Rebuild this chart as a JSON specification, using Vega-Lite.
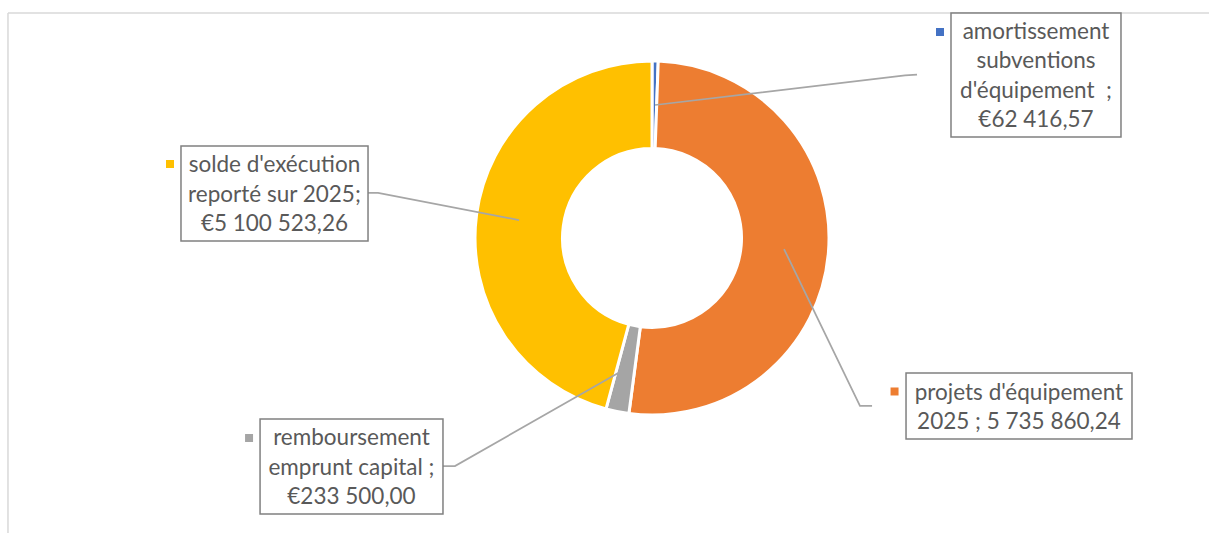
{
  "$schema": "https://vega.github.io/schema/vega-lite/v6.json",
  "width": 1209,
  "height": 533,
  "padding": 0,
  "autosize": {"type": "none"},
  "background": "white",
  "config": {"view": {"stroke": null}},
  "datasets": {
    "slices": [
      {"poste": "amortissement subventions d'équipement", "ordre": 1, "montant": 62416.57},
      {"poste": "projets d'équipement 2025", "ordre": 2, "montant": 5735860.24},
      {"poste": "remboursement emprunt capital", "ordre": 3, "montant": 233500.00},
      {"poste": "solde d'exécution reporté sur 2025", "ordre": 4, "montant": 5100523.26}
    ],
    "labels": [
      {"poste": "amortissement subventions d'équipement", "bx1": 78.66, "bx2": 92.72, "by1": 2.44, "by2": 25.70, "tx": 85.69, "ty": 6.00, "kx": 77.75, "ky": 6.00,
       "texte": ["amortissement", "subventions", "d'équipement\u00a0\u00a0;", "€62 416,57"]},
      {"poste": "solde d'exécution reporté sur 2025", "bx1": 14.97, "bx2": 30.44, "by1": 27.39, "by2": 45.22, "tx": 22.70, "ty": 30.96, "kx": 14.06, "ky": 30.77,
       "texte": ["solde d'exécution", "reporté sur 2025;", "€5 100 523,26"]},
      {"poste": "remboursement emprunt capital", "bx1": 21.51, "bx2": 36.64, "by1": 78.61, "by2": 96.44, "tx": 29.07, "ty": 82.18, "kx": 20.60, "ky": 82.18,
       "texte": ["remboursement", "emprunt capital ;", "€233 500,00"]},
      {"poste": "projets d'équipement 2025", "bx1": 74.94, "bx2": 93.63, "by1": 69.98, "by2": 82.36, "tx": 84.28, "ty": 73.73, "kx": 73.99, "ky": 73.45,
       "texte": ["projets d'équipement", "2025 ; 5 735 860,24"]}
    ],
    "leaders": [
      {"poste": "amortissement subventions d'équipement", "p": 1, "x": 54.18, "y": 19.70},
      {"poste": "amortissement subventions d'équipement", "p": 2, "x": 74.86, "y": 14.16},
      {"poste": "amortissement subventions d'équipement", "p": 3, "x": 75.85, "y": 13.98},
      {"poste": "solde d'exécution reporté sur 2025", "p": 1, "x": 30.44, "y": 36.21},
      {"poste": "solde d'exécution reporté sur 2025", "p": 2, "x": 31.27, "y": 36.21},
      {"poste": "solde d'exécution reporté sur 2025", "p": 3, "x": 42.93, "y": 41.28},
      {"poste": "remboursement emprunt capital", "p": 1, "x": 36.64, "y": 87.43},
      {"poste": "remboursement emprunt capital", "p": 2, "x": 37.63, "y": 87.43},
      {"poste": "remboursement emprunt capital", "p": 3, "x": 51.28, "y": 69.79},
      {"poste": "projets d'équipement 2025", "p": 1, "x": 72.13, "y": 76.17},
      {"poste": "projets d'équipement 2025", "p": 2, "x": 71.13, "y": 76.17},
      {"poste": "projets d'équipement 2025", "p": 3, "x": 64.85, "y": 46.72}
    ],
    "cadre": [
      {"x": 0.66, "y": 2.44, "x2": 100, "y2": 2.44},
      {"x": 0.66, "y": 2.44, "x2": 0.66, "y2": 100}
    ]
  },
  "layer": [
    {
      "data": {"name": "cadre"},
      "mark": {"type": "rule", "color": "#d9d9d9", "strokeWidth": 1.5},
      "encoding": {
        "x": {"field": "x", "type": "quantitative", "scale": {"domain": [0, 100], "nice": false, "zero": false}, "axis": null},
        "x2": {"field": "x2"},
        "y": {"field": "y", "type": "quantitative", "scale": {"domain": [0, 100], "nice": false, "zero": false, "reverse": true}, "axis": null},
        "y2": {"field": "y2"}
      }
    },
    {
      "data": {"name": "slices"},
      "mark": {"type": "arc", "outerRadius": 177, "innerRadius": 89.5, "stroke": "white", "strokeWidth": 3},
      "encoding": {
        "x": {"datum": 53.93, "type": "quantitative"},
        "y": {"datum": 44.65, "type": "quantitative"},
        "theta": {"field": "montant", "type": "quantitative", "stack": true},
        "order": {"field": "ordre", "type": "quantitative"},
        "color": {
          "field": "poste", "type": "nominal", "legend": null,
          "scale": {
            "domain": ["amortissement subventions d'équipement", "projets d'équipement 2025", "remboursement emprunt capital", "solde d'exécution reporté sur 2025"],
            "range": ["#4472C4", "#ED7D31", "#A5A5A5", "#FFC000"]
          }
        }
      }
    },
    {
      "data": {"name": "leaders"},
      "mark": {"type": "line", "color": "#a6a6a6", "strokeWidth": 1.75},
      "encoding": {
        "x": {"field": "x", "type": "quantitative"},
        "y": {"field": "y", "type": "quantitative"},
        "detail": {"field": "poste"},
        "order": {"field": "p", "type": "quantitative"}
      }
    },
    {
      "data": {"name": "labels"},
      "mark": {"type": "rect", "fill": "white", "stroke": "#808080", "strokeWidth": 1.5},
      "encoding": {
        "x": {"field": "bx1", "type": "quantitative"},
        "x2": {"field": "bx2"},
        "y": {"field": "by1", "type": "quantitative"},
        "y2": {"field": "by2"}
      }
    },
    {
      "data": {"name": "labels"},
      "mark": {"type": "point", "shape": "square", "filled": true, "size": 64, "opacity": 1},
      "encoding": {
        "x": {"field": "kx", "type": "quantitative"},
        "y": {"field": "ky", "type": "quantitative"},
        "color": {"field": "poste", "type": "nominal", "legend": null}
      }
    },
    {
      "data": {"name": "labels"},
      "mark": {"type": "text", "font": "Lato", "fontSize": 22.5, "lineHeight": 29.5, "color": "#595959", "align": "center", "baseline": "middle"},
      "encoding": {
        "x": {"field": "tx", "type": "quantitative"},
        "y": {"field": "ty", "type": "quantitative"},
        "text": {"field": "texte"}
      }
    }
  ]
}
